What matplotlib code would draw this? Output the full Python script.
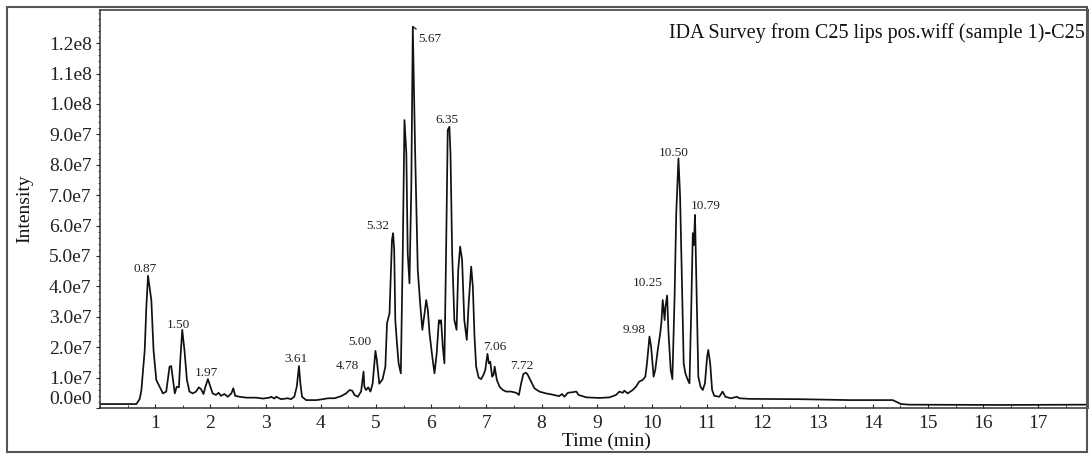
import numpy as np
import matplotlib
matplotlib.use("Agg")
import matplotlib.pyplot as plt
from matplotlib.patches import Rectangle
from matplotlib.ticker import MultipleLocator

plt.rcParams['font.family'] = ['Liberation Serif', 'DejaVu Serif']

# ---------------- data (time in min, intensity in units of 1e7) ----------------
time_min = [0.00, 0.66, 0.72, 0.75, 0.81, 0.84, 0.87, 0.93, 0.97, 1.02, 1.08, 1.14, 1.20, 1.26, 1.29,
            1.33, 1.355, 1.39, 1.43, 1.455, 1.49, 1.53, 1.575, 1.62, 1.68, 1.74, 1.79, 1.83, 1.875, 1.91,
            1.955, 2.00, 2.04, 2.10, 2.15, 2.19, 2.255, 2.315, 2.38, 2.415, 2.45, 2.53, 2.65, 2.83, 2.95,
            3.07, 3.10, 3.16, 3.19, 3.28, 3.40, 3.46, 3.52, 3.565, 3.605, 3.63, 3.66, 3.735, 3.92, 4.04,
            4.13, 4.25, 4.37, 4.46, 4.52, 4.57, 4.61, 4.67, 4.73, 4.775, 4.79, 4.82, 4.86, 4.90, 4.94,
            4.99, 5.015, 5.06, 5.12, 5.17, 5.20, 5.245, 5.29, 5.31, 5.33, 5.35, 5.38, 5.41, 5.45, 5.485,
            5.516, 5.55, 5.575, 5.607, 5.64, 5.667, 5.71, 5.757, 5.80, 5.84, 5.88, 5.91, 5.94, 5.97, 6.02,
            6.06, 6.10, 6.14, 6.163, 6.18, 6.21, 6.24, 6.27, 6.30, 6.33, 6.35, 6.38, 6.42, 6.46, 6.49,
            6.525, 6.56, 6.60, 6.645, 6.68, 6.725, 6.755, 6.785, 6.815, 6.86, 6.905, 6.95, 6.98, 7.02, 7.045,
            7.07, 7.105, 7.13, 7.15, 7.19, 7.24, 7.30, 7.36, 7.45, 7.54, 7.59, 7.63, 7.67, 7.72, 7.75,
            7.81, 7.87, 7.96, 8.08, 8.17, 8.32, 8.37, 8.415, 8.475, 8.565, 8.63, 8.67, 8.81, 9.05, 9.23,
            9.35, 9.41, 9.47, 9.50, 9.56, 9.65, 9.71, 9.77, 9.83, 9.88, 9.91, 9.955, 9.985, 10.03, 10.06,
            10.105, 10.15, 10.17, 10.195, 10.23, 10.245, 10.275, 10.30, 10.34, 10.37, 10.41, 10.44, 10.48, 10.51, 10.55,
            10.575, 10.605, 10.65, 10.68, 10.71, 10.74, 10.76, 10.78, 10.81, 10.84, 10.88, 10.92, 10.96, 11.00, 11.02,
            11.055, 11.09, 11.13, 11.22, 11.28, 11.33, 11.43, 11.54, 11.585, 11.77, 12.67, 13.58, 14.36, 14.42, 14.51,
            14.66, 16.30, 17.90]
intensity_e7 = [0.13, 0.13, 0.30, 0.59, 1.90, 3.33, 4.35, 3.55, 1.90, 0.92, 0.70, 0.48, 0.54, 1.36, 1.38,
                0.81, 0.48, 0.70, 0.68, 1.58, 2.57, 1.90, 0.92, 0.54, 0.48, 0.54, 0.68, 0.62, 0.46, 0.70,
                0.95, 0.70, 0.48, 0.43, 0.50, 0.40, 0.46, 0.37, 0.48, 0.65, 0.40, 0.37, 0.34, 0.34, 0.31,
                0.34, 0.37, 0.31, 0.37, 0.29, 0.32, 0.29, 0.37, 0.70, 1.38, 0.81, 0.37, 0.26, 0.26, 0.29,
                0.32, 0.32, 0.39, 0.48, 0.59, 0.57, 0.43, 0.37, 0.54, 1.20, 0.70, 0.59, 0.68, 0.54, 0.81,
                1.88, 1.58, 0.80, 0.95, 1.36, 2.79, 3.11, 5.53, 5.75, 5.20, 2.89, 2.13, 1.47, 1.14, 5.09,
                9.47, 8.38, 5.09, 4.10, 7.28, 12.54, 8.38, 4.54, 3.45, 2.57, 3.11, 3.55, 3.22, 2.46, 1.69,
                1.14, 1.80, 2.89, 2.79, 2.89, 2.02, 1.47, 5.09, 9.14, 9.25, 8.38, 5.09, 2.89, 2.57, 4.54,
                5.31, 4.87, 2.89, 2.24, 3.45, 4.65, 3.99, 2.35, 1.36, 1.00, 0.95, 1.10, 1.25, 1.78, 1.47,
                1.52, 1.03, 1.09, 1.36, 0.92, 0.70, 0.59, 0.54, 0.54, 0.50, 0.43, 0.81, 1.12, 1.16, 1.09,
                0.87, 0.65, 0.54, 0.48, 0.45, 0.39, 0.46, 0.37, 0.50, 0.52, 0.54, 0.43, 0.35, 0.33, 0.35,
                0.43, 0.54, 0.50, 0.57, 0.48, 0.59, 0.70, 0.87, 0.92, 1.03, 1.47, 2.35, 2.02, 1.03, 1.25,
                1.91, 2.46, 2.79, 3.55, 2.89, 3.33, 3.70, 2.46, 1.25, 0.95, 3.66, 6.40, 8.21, 6.95, 3.66,
                1.47, 1.14, 0.92, 0.81, 3.11, 5.75, 5.36, 6.35, 3.66, 1.03, 0.70, 0.59, 0.81, 1.69, 1.91,
                1.47, 0.59, 0.40, 0.37, 0.54, 0.37, 0.32, 0.37, 0.32, 0.30, 0.29, 0.26, 0.26, 0.21, 0.13,
                0.11, 0.10, 0.11]
intensity_scale = 1e7

peak_labels = ['0.87', '1.50', '1.97', '3.61', '4.78', '5.00', '5.32', '5.67', '6.35',
               '7.06', '7.72', '9.98', '10.25', '10.50', '10.79']

y_tick_values = [0, 1e7, 2e7, 3e7, 4e7, 5e7, 6e7, 7e7, 8e7, 9e7, 1e8, 1.1e8, 1.2e8]
y_tick_labels = ['0.0e0', '1.0e7', '2.0e7', '3.0e7', '4.0e7', '5.0e7', '6.0e7', '7.0e7',
                 '8.0e7', '9.0e7', '1.0e8', '1.1e8', '1.2e8']
x_tick_values = list(range(1, 18))

title_text = 'IDA Survey from C25 lips pos.wiff (sample 1)-C25'
x_label = 'Time (min)'
y_label = 'Intensity'

# ---------------- layout ----------------
# label offsets (pixels) from each peak apex to the label centre
label_offsets = [(-3, 7), (-4, 5), (-2, 6), (-3, 7), (-16, 6), (-16, 9), (-15, 7), (17, -12),
                 (-3, 7), (7, 7), (-4, 7), (-15, 7), (-19, 13), (-5, 5), (11, 9)]

W, H = 1090, 454
fig = plt.figure(figsize=(W / 100, H / 100), dpi=100)
ax = fig.add_axes([100 / W, (H - 408) / H, (1088 - 100) / W, (408 - 10) / H])

t = np.array(time_min)
y = np.array(intensity_e7) * intensity_scale
ax.plot(t, y, color='#111111', lw=1.25, solid_joinstyle='round')

ax.set_xlim(0, 17.9)
ax.set_ylim(0, 1.309e8)

ax.set_xticks(x_tick_values)
ax.set_xticklabels([str(v) for v in x_tick_values])
ax.xaxis.set_minor_locator(MultipleLocator(0.5))
ax.set_yticks(y_tick_values)
ax.set_yticklabels(y_tick_labels)
ax.yaxis.set_minor_locator(MultipleLocator(2e6))

ax.tick_params(axis='x', which='major', direction='in', length=3, width=0.8,
               labelsize=14, pad=5, colors='#222222')
ax.tick_params(axis='x', which='minor', direction='in', length=2, width=0.6, colors='#222222')
ax.tick_params(axis='y', which='major', direction='out', length=3, width=0.8,
               labelsize=14, pad=3, colors='#222222')
ax.tick_params(axis='y', which='minor', direction='out', length=1.5, width=0.5, colors='#222222')
ax.yaxis.get_major_ticks()[0].label1.set_verticalalignment('bottom')

for s in ax.spines.values():
    s.set_color('#333333')
    s.set_linewidth(1.1)

# peak labels
for lab, (dx, dy) in zip(peak_labels, label_offsets):
    tv = float(lab)
    mask = (t >= tv - 0.05) & (t <= tv + 0.05)
    idx = np.where(mask)[0][np.argmax(y[mask])]
    kw = {}
    if lab == '5.67':
        kw['arrowprops'] = dict(arrowstyle='-', color='#111111', lw=0.9, shrinkA=1, shrinkB=0)
    ax.annotate(lab, xy=(t[idx], y[idx]), xytext=(dx, dy), textcoords='offset pixels',
                ha='center', va='center', fontsize=9.5, color='#222222', **kw)

fig.text(1085 / W, 1 - 33 / H, title_text, ha='right', va='center', fontsize=14.5, color='#111111')
fig.text(606 / W, 1 - 441 / H, x_label, ha='center', va='center', fontsize=14, color='#111111')
fig.text(25 / W, 1 - 209 / H, y_label, ha='center', va='center', rotation=90, fontsize=14, color='#111111')

fig.patches.append(Rectangle((7 / W, 2 / H), (1087 - 7) / W, (452 - 7) / H, transform=fig.transFigure,
                             fill=False, edgecolor='#555555', lw=1.5))

fig.savefig('out.png', dpi=100)
